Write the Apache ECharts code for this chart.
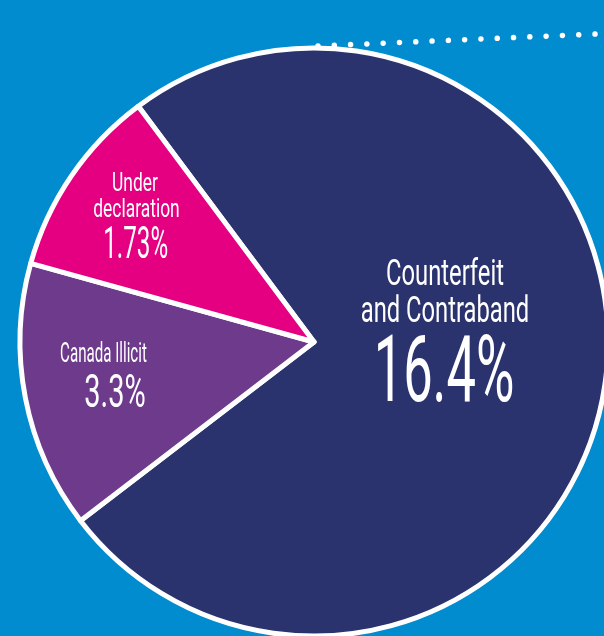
<!DOCTYPE html>
<html><head><meta charset="utf-8">
<script src="https://cdn.jsdelivr.net/npm/echarts@6/dist/echarts.min.js"></script>
<style>html,body{margin:0;padding:0;background:#008cce;} #c{width:604px;height:636px;}</style>
</head><body><div id="c"></div>
<script>
// Data
const categories = ['Counterfeit\nand Contraband', 'Canada Illicit', 'Under\ndeclaration'];
const valueLabels = ['16.4%', '3.3%', '1.73%'];
// share of the circle that each slice takes in the picture
const sliceShares = [74.8, 14.7, 10.5];
const sliceColors = ['#2a336e', '#6e3a8c', '#e40080'];

const FONT = "Roboto, 'DejaVu Sans Condensed', sans-serif";
// label text placement and styling
const labelStyle = [
  { nx: [445, 445], ny: 276, nGap: 37, nSize: 36, nScale: 0.66, vx: 444, vy: 378, vSize: 92, vScale: 0.57 },
  { nx: [103.5],    ny: 355, nGap: 0,  nSize: 27, nScale: 0.56, vx: 115, vy: 395, vSize: 46, vScale: 0.63 },
  { nx: [135, 136.5], ny: 184.5, nGap: 26, nSize: 26, nScale: 0.67, vx: 135.7, vy: 247, vSize: 44, vScale: 0.55 }
];

function textEl(str, x, y, size, scale) {
  return {
    type: 'text', x: x, y: y, scaleX: scale, z: 50, silent: true,
    style: { text: str, fill: '#ffffff', font: '400 ' + size + 'px ' + FONT,
             align: 'center', verticalAlign: 'middle' }
  };
}

const graphics = [{
  type: 'line', z: 100, silent: true,
  shape: { x1: 318, y1: 46, x2: 596, y2: 34 },
  style: { stroke: '#ffffff', lineWidth: 5.5, lineDash: [0.01, 16.3], lineCap: 'round' }
}];
categories.forEach((name, i) => {
  const s = labelStyle[i];
  name.split('\n').forEach((ln, k) => {
    graphics.push(textEl(ln, s.nx[k], s.ny + k * s.nGap, s.nSize, s.nScale));
  });
  graphics.push(textEl(valueLabels[i], s.vx, s.vy, s.vSize, s.vScale));
});

const chart = echarts.init(document.getElementById('c'), null, { renderer: 'canvas' });
chart.setOption({
  backgroundColor: '#008cce',
  animation: false,
  graphic: graphics,
  series: [{
    type: 'pie',
    center: [314, 342],
    radius: [0, 294],
    startAngle: 126.7,
    clockwise: true,
    silent: true,
    emphasis: { disabled: true },
    itemStyle: { borderColor: '#ffffff', borderWidth: 5 },
    label: { show: false },
    labelLine: { show: false },
    data: categories.map((name, i) => ({
      name: name, value: sliceShares[i], itemStyle: { color: sliceColors[i] }
    }))
  }]
});
</script></body></html>
